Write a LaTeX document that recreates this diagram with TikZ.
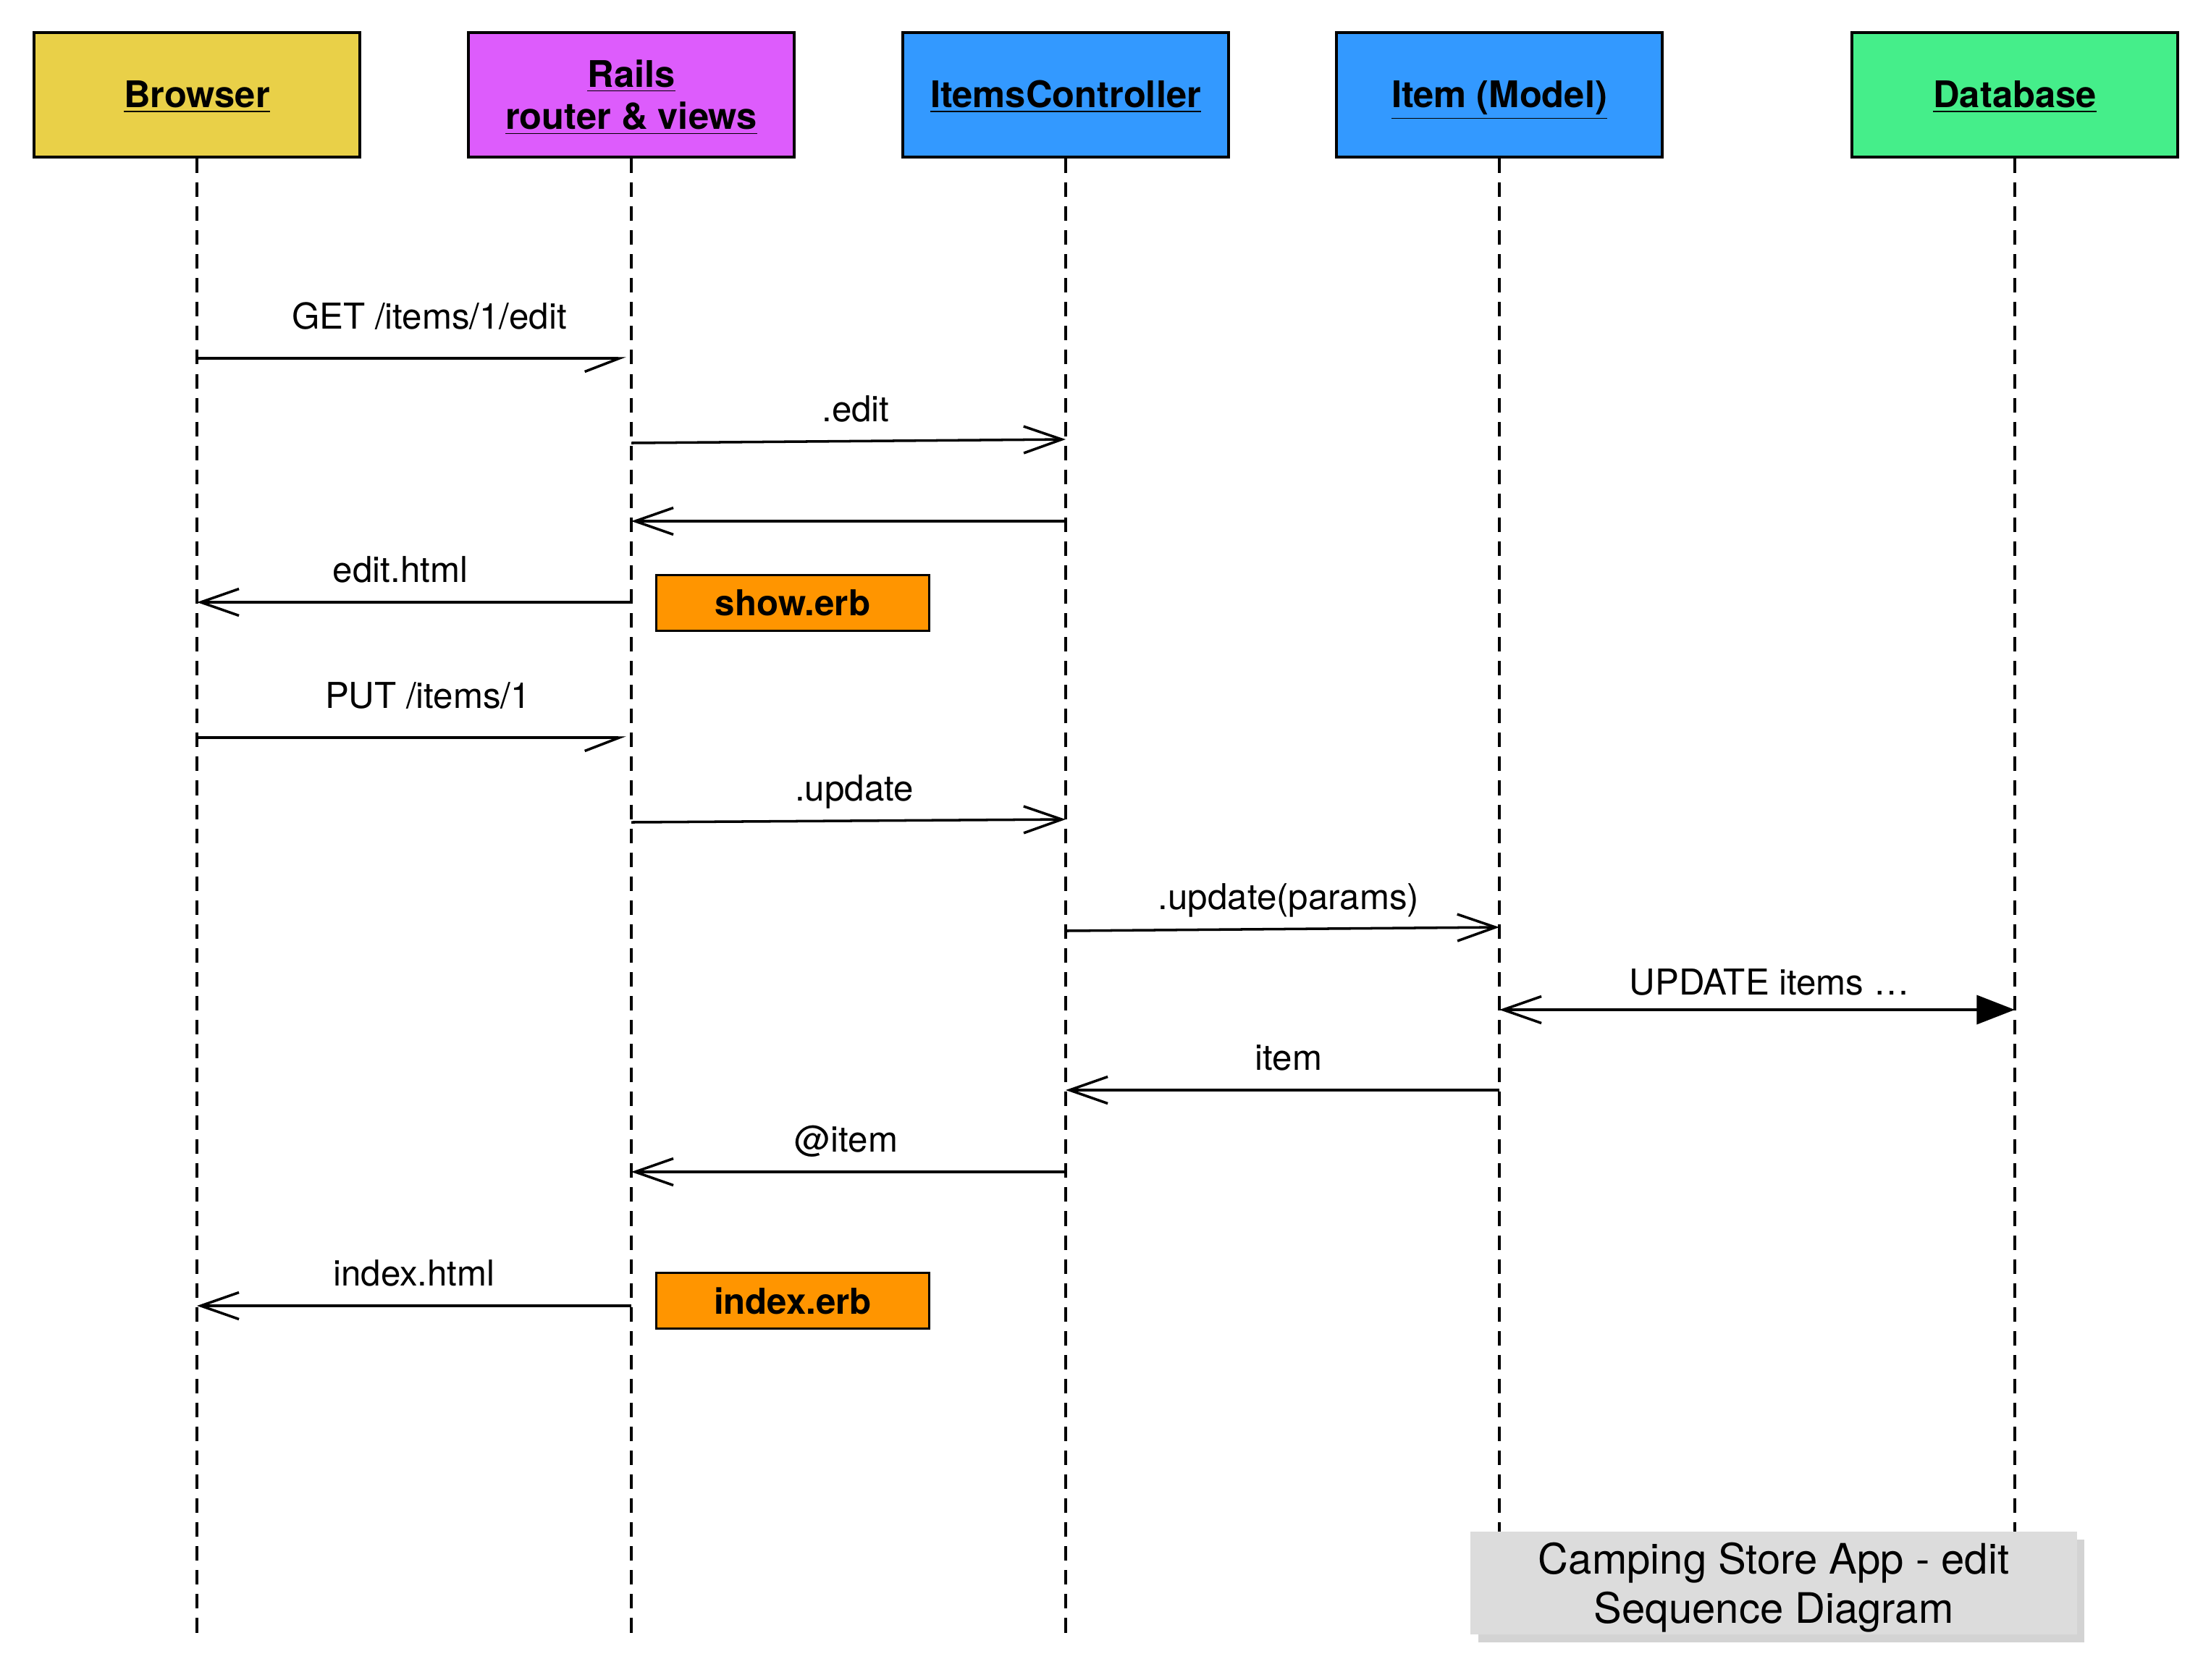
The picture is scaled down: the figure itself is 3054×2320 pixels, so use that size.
\documentclass[tikz,border=0pt]{standalone}
\usepackage{fontspec}
\setmainfont{TeX Gyre Heros}
\usetikzlibrary{arrows.meta,positioning,shadows}

\definecolor{browsercol}{RGB}{233,208,72}
\definecolor{railscol}{RGB}{221,92,252}
\definecolor{ctrlcol}{RGB}{51,153,255}
\definecolor{dbcol}{RGB}{69,238,138}
\definecolor{erbcol}{RGB}{255,149,0}
\definecolor{notecol}{RGB}{220,220,220}

\begin{document}
\begin{tikzpicture}[x=0.01cm, y=-0.01cm,
  every node/.style={font=\fontsize{14}{17}\selectfont},
  actor/.style={draw, line width=1.1pt, minimum width=4.5cm, minimum height=1.72cm, align=center, font=\fontsize{14.4}{16.6}\selectfont\bfseries},
  oneline/.style={text height=12pt, text depth=2pt},
  erb/.style={draw, fill=erbcol, line width=0.9pt, minimum width=3.76cm, minimum height=0.77cm, font=\fontsize{14}{17}\selectfont\bfseries},
  lifeline/.style={line width=1pt, dash pattern=on 5.7pt off 3.7pt},
  sync/.style={line width=1pt, -{Straight Barb[length=15pt, width=10.5pt]}},
  async/.style={line width=1pt, shorten >=2pt, -{Straight Barb[length=13.6pt, width=10.5pt, harpoon, swap]}},
  lbl/.style={anchor=base}]

\useasboundingbox (0,0) rectangle (3054,2320);

% participants
\node[actor, oneline, fill=browsercol] (browser) at (272,131) {\underline{Browser}};
\node[actor, fill=railscol] (rails) at (872,131) {};
\node[align=center, font=\fontsize{14.4}{16.6}\selectfont\bfseries] (railstext) at ([yshift=-1pt]rails.center) {\underline{Rails}\\\underline{router \& views}};
\node[actor, oneline, fill=ctrlcol] (ctrl) at (1472,131) {\underline{ItemsController}};
\node[actor, oneline, fill=ctrlcol] (model) at (2071,131) {\underline{Item (Model)}};
\node[actor, oneline, fill=dbcol] (db) at (2783,131) {\underline{Database}};

\foreach \n in {browser,rails,ctrl,model,db}
  \draw[lifeline] (\n.south) -- (\n.south |- 0,2258);

% edit request
\draw[async] (browser |- 0,495) -- (rails |- 0,495);
\node[lbl] (getlbl) at (593,454) {GET /items/1/edit};
\draw[sync] (rails |- 0,612) -- (ctrl |- 0,607);
\node[lbl] (editlbl) at (1182,582) {.edit};
\draw[sync] (ctrl |- 0,720) -- (rails |- 0,720);
\draw[sync] (rails |- 0,832) -- (browser |- 0,832);
\node[lbl] (edithtml) at (553,804) {edit.html};
\node[erb] (showerb) at (1095,833) {show.erb};

% update request
\draw[async] (browser |- 0,1019) -- (rails |- 0,1019);
\node[lbl] (putlbl) at (591,978) {PUT /items/1};
\draw[sync] (rails |- 0,1136) -- (ctrl |- 0,1132);
\node[lbl] (updlbl) at (1180,1106) {.update};
\draw[sync] (ctrl |- 0,1286) -- (model |- 0,1281);
\node[lbl] (paramslbl) at (1780,1256) {.update(params)};
\draw[line width=1pt, {Straight Barb[length=15pt, width=10.5pt]}-{Triangle[length=15pt, width=11.4pt]}] (model |- 0,1395) -- (db |- 0,1395);
\node[lbl] (sqllbl) at (2444,1374) {UPDATE items …};
\draw[sync] (model |- 0,1506) -- (ctrl |- 0,1506);
\node[lbl] (itemlbl) at (1780,1478) {item};
\draw[sync] (ctrl |- 0,1619) -- (rails |- 0,1619);
\node[lbl] (atitemlbl) at (1169,1591) {@item};
\draw[sync] (rails |- 0,1804) -- (browser |- 0,1804);
\node[lbl] (indexhtml) at (572,1776) {index.html};
\node[erb] (indexerb) at (1095,1797) {index.erb};

% title
\node[fill=notecol, drop shadow={shadow xshift=3pt, shadow yshift=-3pt, opacity=0.35}, minimum width=8.37cm, minimum height=1.42cm] (note) at (2450,2187) {};
\node[align=center, font=\fontsize{16.5}{19.4}\selectfont] (notetext) at ([yshift=-6pt*0.2845]note.center) {Camping Store App - edit\\Sequence Diagram};
\end{tikzpicture}
\end{document}
